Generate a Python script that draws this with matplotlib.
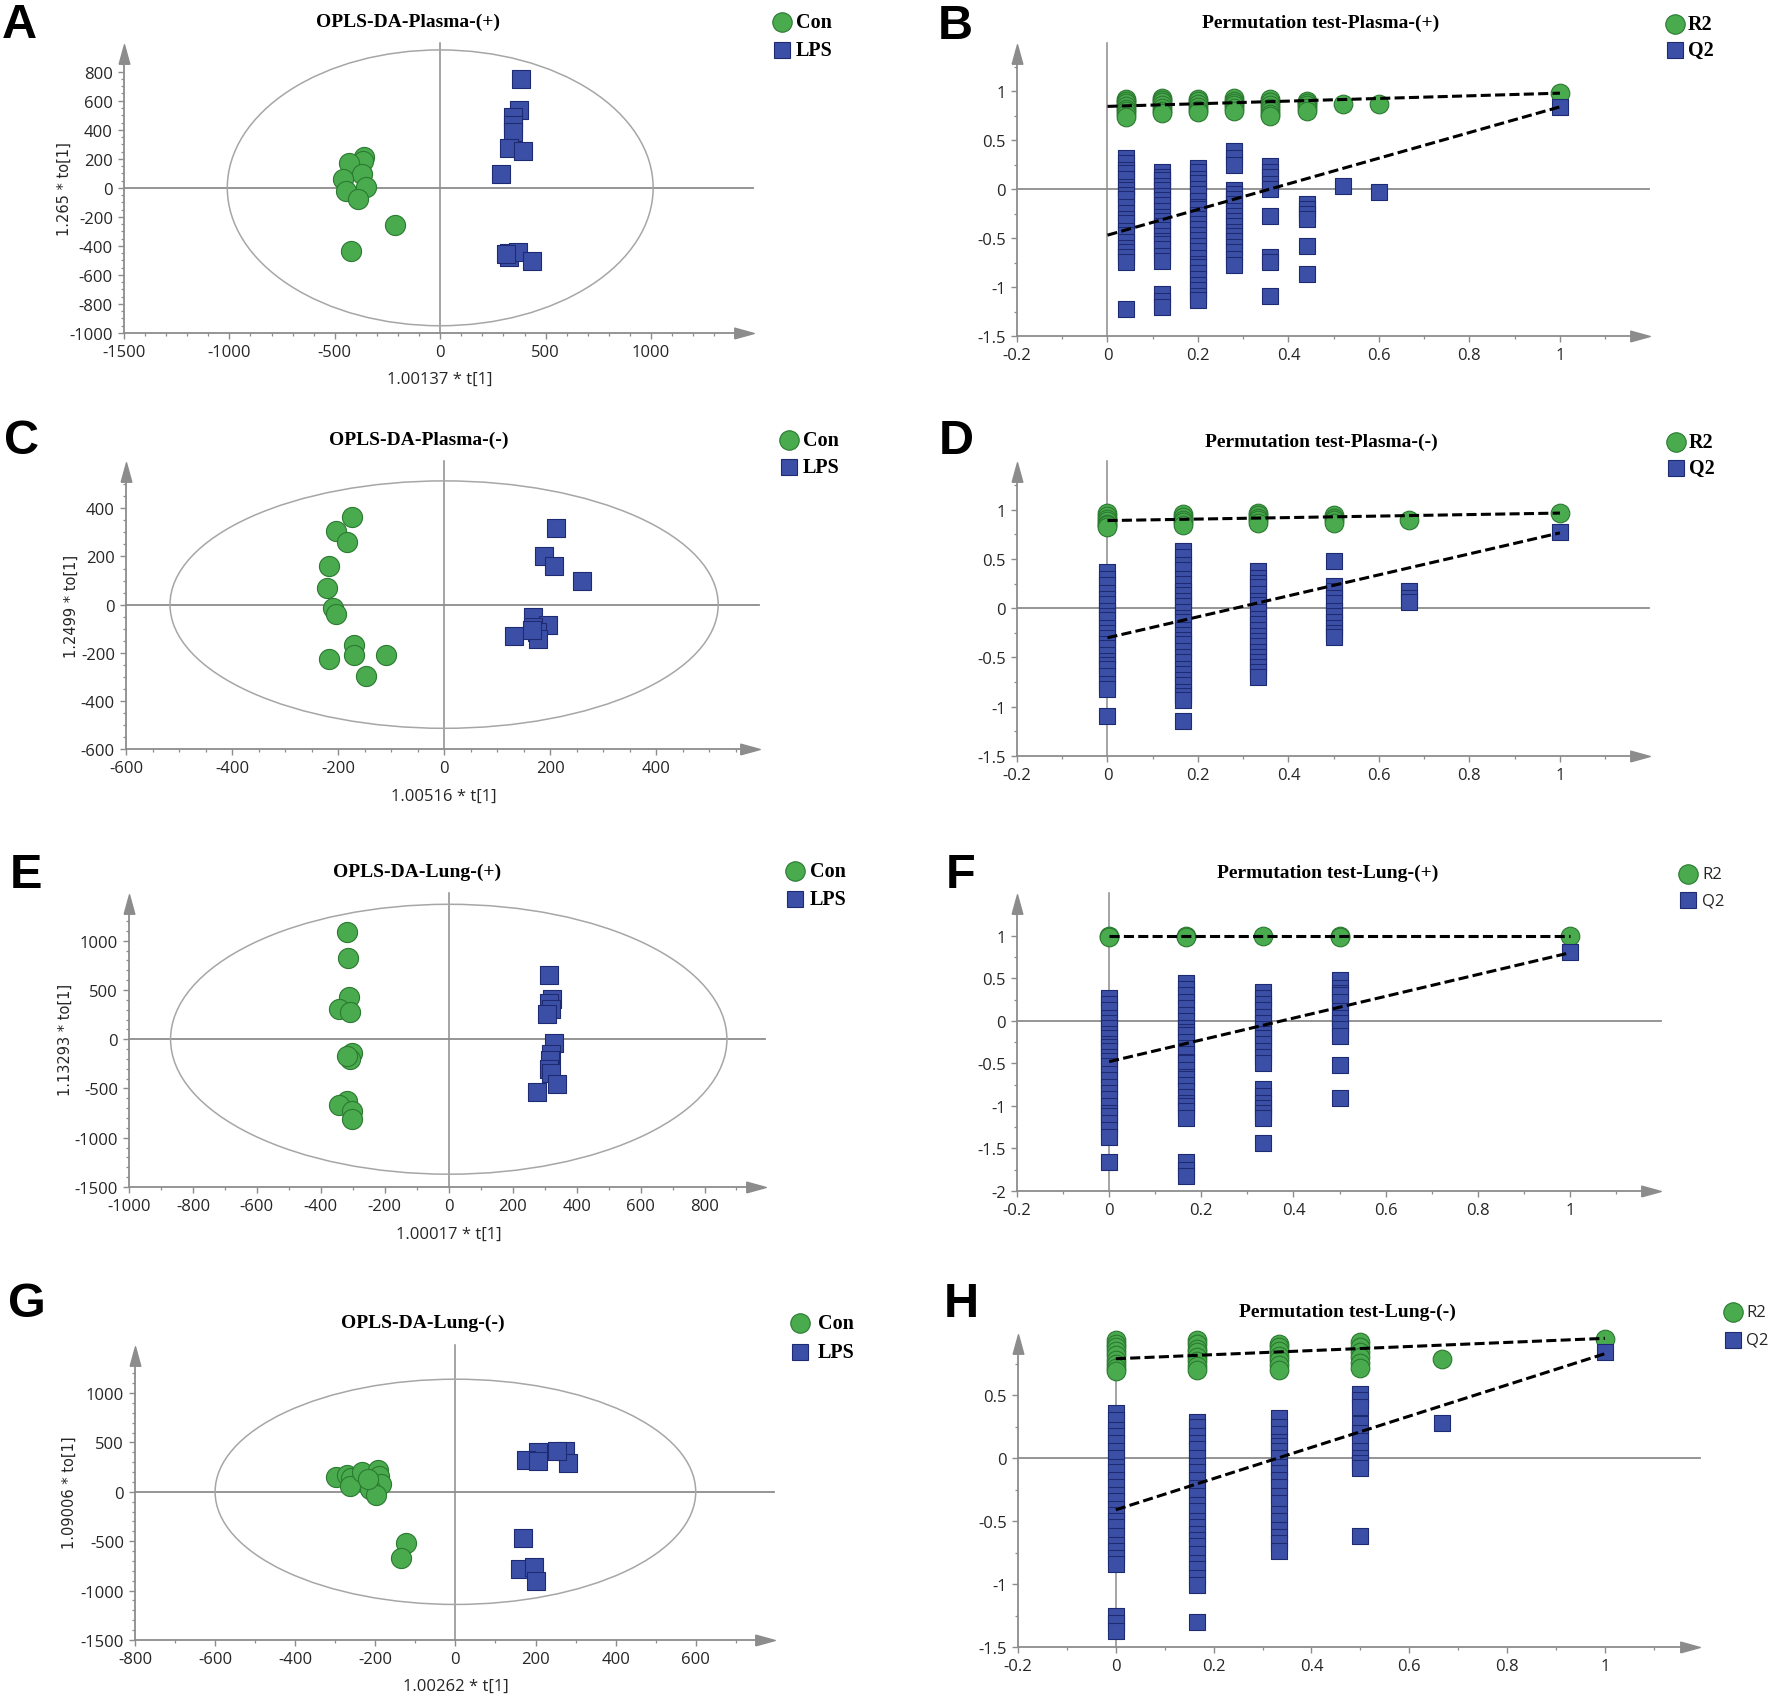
import matplotlib
matplotlib.use("Agg")
import matplotlib.pyplot as plt
from matplotlib.lines import Line2D
from matplotlib.patches import Ellipse
from matplotlib.ticker import MultipleLocator, FuncFormatter

# ---------------- data ----------------
# A: OPLS-DA Plasma (+)
a_con_x = [-363, -365, -432, -371, -459, -352, -446, -392, -213, -424]
a_con_y = [211, 188, 170, 96, 62, 5, -25, -76, -255, -432]
a_lps_x = [382, 374, 347, 347, 347, 328, 395, 288, 328, 328, 368, 435, 310]
a_lps_y = [751, 533, 487, 430, 383, 273, 257, 92, -448, -478, -439, -505, -455]

# C: OPLS-DA Plasma (-)
c_con_x = [-173, -204, -184, -218, -221, -209, -204, -170, -218, -170, -110, -148]
c_con_y = [363, 304, 262, 162, 68, -14, -39, -167, -226, -209, -209, -298]
c_lps_x = [211, 188, 208, 260, 168, 196, 168, 175, 131, 178, 165]
c_lps_y = [318, 203, 162, 100, -53, -84, -94, -115, -129, -143, -105]

# E: OPLS-DA Lung (+)
e_con_x = [-318, -315, -313, -343, -310, -304, -310, -317, -317, -343, -304, -301]
e_con_y = [1092, 824, 424, 305, 278, -136, -203, -169, -627, -668, -729, -807]
e_lps_x = [315, 324, 315, 320, 308, 329, 320, 317, 315, 320, 338, 276]
e_lps_y = [651, 407, 366, 305, 254, -34, -153, -214, -305, -339, -451, -536]

# G: OPLS-DA Lung (-)
g_con_x = [-298, -271, -260, -264, -232, -194, -190, -187, -213, -199, -218, -124, -136]
g_con_y = [152, 169, 139, 61, 203, 223, 162, 78, 27, -34, 128, -514, -666]
g_lps_x = [206, 274, 176, 206, 281, 253, 169, 161, 197, 201]
g_lps_y = [399, 416, 324, 314, 291, 409, -463, -777, -757, -902]

# B: permutation test Plasma (+)
b_x = [0.04, 0.12, 0.2, 0.28, 0.36, 0.44, 0.52, 0.6, 1.0]
b_r2 = [[0.92, 0.9, 0.88, 0.85, 0.82, 0.8, 0.77, 0.74],
        [0.93, 0.91, 0.89, 0.86, 0.83, 0.8, 0.78],
        [0.92, 0.9, 0.87, 0.84, 0.81, 0.79],
        [0.93, 0.9, 0.88, 0.86, 0.83, 0.8],
        [0.92, 0.89, 0.86, 0.83, 0.8, 0.77, 0.75],
        [0.9, 0.88, 0.86, 0.83, 0.8],
        [0.87], [0.87], [0.98]]
b_q2 = [[0.32, 0.27, 0.2, 0.16, 0.1, 0.02, -0.01, -0.06, -0.1, -0.18, -0.24, -0.3, -0.35,
         -0.43, -0.47, -0.54, -0.6, -0.64, -0.69, -0.74, -1.22],
        [0.18, 0.12, 0.09, 0.03, -0.01, -0.07, -0.11, -0.16, -0.22, -0.28, -0.33, -0.38,
         -0.42, -0.48, -0.53, -0.56, -0.61, -0.68, -0.73, -1.07, -1.14, -1.2],
        [0.22, 0.17, 0.1, 0.06, 0.0, -0.05, -0.12, -0.18, -0.2, -0.26, -0.31, -0.36, -0.41,
         -0.47, -0.52, -0.58, -0.63, -0.7, -0.76, -0.8, -0.86, -0.92, -0.98, -1.03, -1.09, -1.13],
        [0.39, 0.32, 0.25, -0.01, -0.05, -0.1, -0.15, -0.22, -0.27, -0.33, -0.38, -0.44,
         -0.48, -0.53, -0.59, -0.64, -0.71, -0.77],
        [0.24, 0.17, 0.12, 0.05, 0.0, -0.27, -0.69, -0.74, -1.09],
        [-0.15, -0.2, -0.25, -0.3, -0.58, -0.87],
        [0.03], [-0.03], [0.84]]
b_r2_fit = [0.845, 0.98]   # regression line value at x=0 and x=1
b_q2_fit = [-0.47, 0.84]

# D: permutation test Plasma (-)
d_x = [0.0, 0.167, 0.333, 0.5, 0.667, 1.0]
d_r2 = [[0.97, 0.94, 0.91, 0.89, 0.86, 0.84, 0.82],
        [0.96, 0.93, 0.9, 0.88, 0.85],
        [0.97, 0.95, 0.92, 0.9, 0.87],
        [0.95, 0.92, 0.9, 0.87],
        [0.9], [0.97]]
d_q2 = [[0.37, 0.3, 0.24, 0.15, 0.09, 0.04, -0.03, -0.08, -0.12, -0.2, -0.25, -0.3, -0.36,
         -0.4, -0.47, -0.54, -0.58, -0.62, -0.69, -0.77, -0.82, -1.09],
        [0.58, 0.52, 0.44, 0.39, 0.3, 0.25, 0.18, 0.13, 0.07, 0.02, -0.04, -0.1, -0.14, -0.22,
         -0.27, -0.32, -0.36, -0.43, -0.5, -0.55, -0.62, -0.67, -0.73, -0.78, -0.85, -0.89,
         -0.93, -1.14],
        [0.38, 0.31, 0.26, 0.22, 0.14, 0.07, 0.03, -0.04, -0.11, -0.16, -0.22, -0.28, -0.33,
         -0.38, -0.44, -0.5, -0.55, -0.6, -0.65, -0.7],
        [0.48, 0.23, 0.18, 0.1, 0.05, -0.03, -0.08, -0.14, -0.2, -0.25, -0.29],
        [0.18, 0.1, 0.06], [0.77]]
d_r2_fit = [0.89, 0.966]
d_q2_fit = [-0.30, 0.765]

# F: permutation test Lung (+)
f_x = [0.0, 0.167, 0.333, 0.5, 1.0]
f_r2 = [[1.0, 0.99], [1.0, 0.99], [0.995], [1.0, 0.99], [1.0]]
f_q2 = [[0.27, 0.2, 0.13, 0.03, -0.02, -0.08, -0.15, -0.2, -0.27, -0.31, -0.36, -0.42, -0.47,
         -0.53, -0.62, -0.7, -0.78, -0.85, -0.92, -1.0, -1.08, -1.12, -1.2, -1.28, -1.37, -1.66],
        [0.44, 0.37, 0.3, 0.22, 0.15, 0.07, 0.0, -0.08, -0.13, -0.17, -0.25, -0.32, -0.39,
         -0.48, -0.5, -0.58, -0.66, -0.68, -0.75, -0.82, -0.9, -0.97, -1.0, -1.06, -1.14,
         -1.66, -1.75, -1.82],
        [0.34, 0.27, 0.2, 0.13, 0.05, -0.02, -0.1, -0.16, -0.2, -0.27, -0.35, -0.43, -0.49,
         -0.8, -0.88, -0.97, -1.03, -1.08, -1.14, -1.44],
        [0.48, 0.39, 0.33, 0.3, 0.22, 0.12, 0.03, -0.03, -0.1, -0.18, -0.52, -0.91],
        [0.81]]
f_r2_fit = [0.996, 0.996]
f_q2_fit = [-0.48, 0.80]

# H: permutation test Lung (-)
h_x = [0.0, 0.167, 0.333, 0.5, 0.667, 1.0]
h_r2 = [[0.94, 0.91, 0.88, 0.85, 0.82, 0.78, 0.75, 0.72, 0.69],
        [0.94, 0.91, 0.87, 0.84, 0.8, 0.77, 0.73, 0.7],
        [0.91, 0.88, 0.85, 0.81, 0.78, 0.74, 0.7],
        [0.92, 0.88, 0.84, 0.8, 0.76, 0.72],
        [0.79], [0.95]]
h_q2 = [[0.36, 0.3, 0.22, 0.18, 0.12, 0.06, 0.0, -0.07, -0.11, -0.17, -0.23, -0.29, -0.34,
         -0.4, -0.45, -0.5, -0.55, -0.62, -0.69, -0.74, -0.79, -0.84, -1.25, -1.31, -1.37],
        [0.29, 0.25, 0.18, 0.12, 0.07, 0.0, -0.06, -0.11, -0.17, -0.24, -0.3, -0.37, -0.42,
         -0.5, -0.55, -0.6, -0.65, -0.7, -0.76, -0.83, -0.88, -0.95, -1.01, -1.3],
        [0.32, 0.25, 0.19, 0.13, 0.1, 0.06, 0.0, -0.07, -0.12, -0.17, -0.23, -0.3, -0.36,
         -0.44, -0.5, -0.57, -0.63, -0.67, -0.74],
        [0.51, 0.46, 0.41, 0.27, 0.2, 0.14, 0.06, 0.0, -0.04, -0.08, -0.62],
        [0.28], [0.84]]
h_r2_fit = [0.79, 0.952]
h_q2_fit = [-0.41, 0.83]

# ---------------- style ----------------
W, H = 1770, 1699
GREY = "#8c8c8c"
TEXT = "#262626"
GREEN, GREEN_EDGE = "#4aaa4e", "#2a7a30"
BLUE, BLUE_EDGE = "#3b4fa6", "#1e2b73"
SERIF = "Liberation Serif"

plt.rcParams["font.family"] = ["Open Sans", "DejaVu Sans"]
plt.rcParams["axes.unicode_minus"] = False

# arrow heads at the ends of the axes
RIGHT_ARROW = [(-1, -0.55), (1, 0), (-1, 0.55), (-1, -0.55)]
UP_ARROW = [(-0.55, -1), (0, 1), (0.55, -1), (-0.55, -1)]

fig = plt.figure(figsize=(W / 100, H / 100), dpi=100)


def fx(px):
    return px / W


def fy(py):
    return 1 - py / H


def make_axes(box, xlim, ylim, xstep, ystep):
    """box = (left, right, top, bottom) in pixels, origin top-left"""
    left, right, top, bottom = box
    ax = fig.add_axes([fx(left), fy(bottom), (right - left) / W, (bottom - top) / H])
    ax.patch.set_visible(False)
    ax.set_xlim(*xlim)
    ax.set_ylim(*ylim)
    for side in ("top", "right"):
        ax.spines[side].set_visible(False)
    for side in ("left", "bottom"):
        ax.spines[side].set_color(GREY)
        ax.spines[side].set_linewidth(1.3)
    ax.xaxis.set_major_locator(MultipleLocator(xstep[0]))
    ax.xaxis.set_minor_locator(MultipleLocator(xstep[1]))
    ax.yaxis.set_major_locator(MultipleLocator(ystep[0]))
    ax.yaxis.set_minor_locator(MultipleLocator(ystep[1]))
    fmt = FuncFormatter(lambda v, p: "%g" % (round(v, 6) + 0.0))
    ax.xaxis.set_major_formatter(fmt)
    ax.yaxis.set_major_formatter(fmt)
    ax.tick_params(which="major", direction="out", length=4.5, width=1.0, color=GREY,
                   labelsize=12, labelcolor=TEXT, pad=3.5)
    ax.tick_params(which="minor", direction="out", length=2.5, width=0.9, color=GREY)
    # zero lines
    ax.axhline(0, xmax=1.015, color=GREY, lw=1.3, zorder=1, clip_on=False)
    ax.axvline(0, ymax=1.04, color=GREY, lw=1.1, zorder=1, clip_on=False)
    # arrows
    ax.plot([1], [0], transform=ax.transAxes, marker=RIGHT_ARROW, ms=14, color=GREY,
            mec=GREY, clip_on=False, zorder=6)
    ax.plot([0], [1], transform=ax.transAxes, marker=UP_ARROW, ms=14, color=GREY,
            mec=GREY, clip_on=False, zorder=6)
    return ax


def add_title(x, y, text):
    fig.text(fx(x), fy(y), text, family=SERIF, weight="bold", fontsize=14,
             ha="center", va="center", color="black")


def add_legend(x, y1, y2, tx, names, serif=True):
    fig.add_artist(Line2D([fx(x)], [fy(y1)], marker="o", ms=14, mfc=GREEN, mec=GREEN_EDGE,
                          mew=0.8, transform=fig.transFigure))
    fig.add_artist(Line2D([fx(x)], [fy(y2)], marker="s", ms=12, mfc=BLUE, mec=BLUE_EDGE,
                          mew=0.8, transform=fig.transFigure))
    for yy, name in zip((y1, y2), names):
        if serif:
            fig.text(fx(tx), fy(yy), name, family=SERIF, weight="bold", fontsize=14.5,
                     ha="left", va="center")
        else:
            fig.text(fx(tx), fy(yy), name, fontsize=12, ha="left", va="center", color=TEXT)


def add_letter(x, y, letter):
    fig.text(fx(x), fy(y), letter, family="Liberation Sans", weight="bold", fontsize=35,
             ha="left", va="baseline")


def opls_panel(ax, radii, con_x, con_y, lps_x, lps_y):
    ax.add_patch(Ellipse((0, 0), 2 * radii[0], 2 * radii[1], fill=False, ec="#a6a6a6",
                         lw=1.1, zorder=1, clip_on=False))
    ax.scatter(con_x, con_y, s=210, marker="o", c=GREEN, edgecolors=GREEN_EDGE,
               linewidths=0.8, zorder=3, clip_on=False)
    ax.scatter(lps_x, lps_y, s=160, marker="s", c=BLUE, edgecolors=BLUE_EDGE,
               linewidths=0.8, zorder=4, clip_on=False)


def perm_panel(ax, xs, r2, q2, r2_fit, q2_fit):
    for x, vals in zip(xs, r2):
        ax.scatter([x] * len(vals), vals, s=180, marker="o", c=GREEN, edgecolors=GREEN_EDGE,
                   linewidths=0.8, zorder=3, clip_on=False)
    for x, vals in zip(xs, q2):
        ax.scatter([x] * len(vals), vals, s=135, marker="s", c=BLUE, edgecolors=BLUE_EDGE,
                   linewidths=0.8, zorder=4, clip_on=False)
    dash = (0, (3.3, 1.4))
    ax.plot([0, 1], r2_fit, color="black", lw=2.2, ls=dash, zorder=5, clip_on=False)
    ax.plot([0, 1], q2_fit, color="black", lw=2.2, ls=dash, zorder=5, clip_on=False)


def axis_labels(xl_pos, yl_pos, xlabel, ylabel):
    fig.text(fx(xl_pos[0]), fy(xl_pos[1]), xlabel, fontsize=12, color=TEXT,
             ha="center", va="center")
    fig.text(fx(yl_pos[0]), fy(yl_pos[1]), ylabel, family="DejaVu Sans", fontsize=10.5,
             color=TEXT, rotation=90, ha="center", va="center")


# ---------------- A ----------------
ax = make_axes((124, 744, 55, 334), (-1500, 1441), (-1000, 922), (500, 100), (200, 50))
opls_panel(ax, (1010, 950), a_con_x, a_con_y, a_lps_x, a_lps_y)
axis_labels((440, 380), (64, 189), "1.00137 * t[1]", "1.265 * to[1]")
add_title(408, 22, "OPLS-DA-Plasma-(+)")
add_legend(782, 23, 51, 796, ("Con", "LPS"))
add_letter(2, 38, "A")

# ---------------- B ----------------
ax = make_axes((1017, 1640, 55, 337), (-0.2, 1.177), (-1.5, 1.38), (0.2, 0.1), (0.5, 0.25))
perm_panel(ax, b_x, b_r2, b_q2, b_r2_fit, b_q2_fit)
add_title(1321, 23, "Permutation test-Plasma-(+)")
add_legend(1675, 25, 51, 1688, ("R2", "Q2"))
add_letter(938, 39, "B")

# ---------------- C ----------------
ax = make_axes((126, 750, 473, 750), (-600, 577), (-600, 551), (200, 50), (200, 50))
opls_panel(ax, (517, 514), c_con_x, c_con_y, c_lps_x, c_lps_y)
axis_labels((444, 797), (71, 606), "1.00516 * t[1]", "1.2499 * to[1]")
add_title(419, 440, "OPLS-DA-Plasma-(-)")
add_legend(789, 441, 468, 803, ("Con", "LPS"))
add_letter(4, 454, "C")

# ---------------- D ----------------
ax = make_axes((1017, 1640, 473, 757), (-0.2, 1.177), (-1.5, 1.383), (0.2, 0.1), (0.5, 0.25))
perm_panel(ax, d_x, d_r2, d_q2, d_r2_fit, d_q2_fit)
add_title(1321, 442, "Permutation test-Plasma-(-)")
add_legend(1676, 443, 469, 1689, ("R2", "Q2"))
add_letter(939, 454, "D")

# ---------------- E ----------------
ax = make_axes((129, 756, 905, 1188), (-1000, 961), (-1500, 1373), (200, 100), (500, 100))
opls_panel(ax, (870, 1370), e_con_x, e_con_y, e_lps_x, e_lps_y)
axis_labels((449, 1235), (65, 1040), "1.00017 * t[1]", "1.13293 * to[1]")
add_title(417, 872, "OPLS-DA-Lung-(+)")
add_legend(795, 872, 900, 810, ("Con", "LPS"))
add_letter(10, 888, "E")

# ---------------- F ----------------
ax = make_axes((1017, 1651, 905, 1192), (-0.2, 1.176), (-2, 1.373), (0.2, 0.1), (0.5, 0.25))
perm_panel(ax, f_x, f_r2, f_q2, f_r2_fit, f_q2_fit)
add_title(1328, 873, "Permutation test-Lung-(+)")
add_legend(1688, 875, 901, 1702, ("R2", "Q2"), serif=False)
add_letter(946, 888, "F")

# ---------------- G ----------------
ax = make_axes((135, 765, 1357, 1641), (-800, 773), (-1500, 1375), (200, 100), (500, 100))
opls_panel(ax, (600, 1140), g_con_x, g_con_y, g_lps_x, g_lps_y)
axis_labels((456, 1687), (69, 1493), "1.00262 * t[1]", "1.09006 * to[1]")
add_title(423, 1323, "OPLS-DA-Lung-(-)")
add_legend(800, 1324, 1353, 818, ("Con", "LPS"))
add_letter(8, 1317, "G")

# ---------------- H ----------------
ax = make_axes((1018, 1690, 1345, 1648), (-0.2, 1.174), (-1.5, 0.907), (0.2, 0.1), (0.5, 0.25))
perm_panel(ax, h_x, h_r2, h_q2, h_r2_fit, h_q2_fit)
add_title(1347, 1312, "Permutation test-Lung-(-)")
add_legend(1733, 1313, 1341, 1746, ("R2", "Q2"), serif=False)
add_letter(944, 1317, "H")

fig.savefig("out.png", dpi=100)
